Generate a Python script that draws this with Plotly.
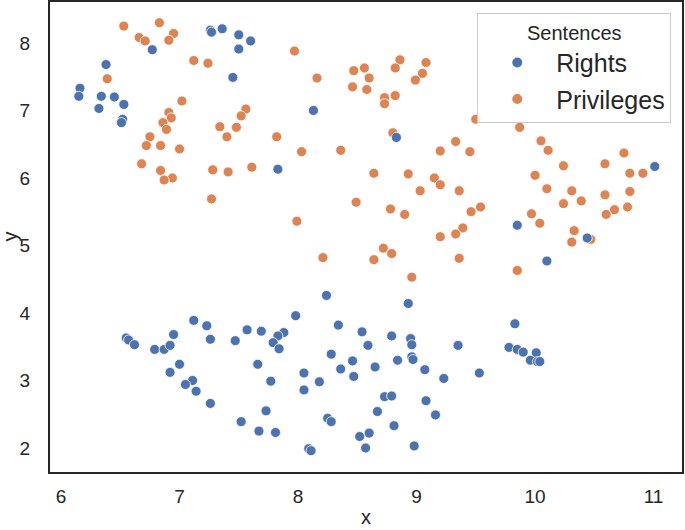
import plotly.graph_objects as go

rights_x = [7.26, 7.27, 7.36, 7.50, 7.60, 7.50, 6.77, 6.38, 7.45, 6.16, 6.15, 6.34, 6.45, 6.53, 6.32, 6.52, 6.51,
            8.13, 8.83, 7.83, 11.01, 9.85, 10.44, 10.10, 8.24, 8.93, 7.98,
            6.55, 6.57, 6.62, 6.79, 6.87, 6.92, 6.95, 7.12, 7.23, 7.26, 7.47, 7.57, 7.69, 7.00, 6.92, 7.11, 7.05,
            7.14, 7.26, 7.66, 7.77, 7.73, 7.52, 7.67,
            7.88, 7.83, 7.79, 7.84, 8.34, 8.54, 8.59, 8.79, 8.95, 8.96, 8.96, 8.97, 8.84, 9.07, 9.35, 9.23, 9.53,
            8.28, 8.46, 8.36, 8.47, 8.65, 8.05, 8.18, 8.05, 7.81, 8.73, 8.79, 9.08, 9.16, 8.67, 8.81, 8.25, 8.28,
            8.52, 8.60, 8.57, 8.98, 8.09, 8.11,
            9.83, 9.78, 9.85, 9.90, 10.01, 9.96, 10.02, 10.04]
rights_y = [8.19, 8.16, 8.21, 8.12, 8.03, 7.91, 7.90, 7.68, 7.49, 7.33, 7.21, 7.21, 7.20, 7.09, 7.03, 6.87, 6.82,
            7.00, 6.60, 6.13, 6.17, 5.30, 5.11, 4.77, 4.26, 4.14, 3.96,
            3.63, 3.60, 3.53, 3.46, 3.46, 3.52, 3.68, 3.89, 3.81, 3.61, 3.59, 3.75, 3.73, 3.24, 3.12, 3.00, 2.94,
            2.84, 2.66, 3.24, 2.99, 2.55, 2.39, 2.25,
            3.71, 3.66, 3.56, 3.47, 3.82, 3.72, 3.52, 3.66, 3.62, 3.53, 3.35, 3.31, 3.30, 3.16, 3.52, 3.03, 3.11,
            3.39, 3.29, 3.17, 3.06, 3.20, 3.11, 2.98, 2.86, 2.23, 2.76, 2.77, 2.70, 2.49, 2.54, 2.33, 2.44, 2.39,
            2.17, 2.22, 2.00, 2.03, 1.99, 1.96,
            3.84, 3.49, 3.46, 3.42, 3.41, 3.30, 3.28, 3.28]

priv_x = [6.53, 6.83, 6.66, 6.71, 6.95, 6.91, 7.12, 7.24, 6.39, 7.02, 6.91, 6.93, 6.86, 6.89, 6.75, 6.72, 6.84,
          7.00, 7.56, 7.52, 7.34, 7.48, 7.40, 6.68, 6.84, 6.94, 6.87, 7.28, 7.41, 7.61, 7.27,
          7.97, 8.16, 8.47, 8.56, 8.60, 8.46, 8.58, 8.86, 8.82, 9.08, 9.05, 8.99, 8.73, 8.82, 8.73, 8.80, 7.82,
          8.03, 8.36, 9.20, 9.33, 9.45, 9.50,
          9.87, 10.05, 10.11, 10.24, 10.59, 10.75,
          8.64, 8.93, 9.15, 9.20, 9.03, 9.36, 8.49, 8.78, 8.90, 9.46, 7.99, 9.39, 9.33, 9.20, 8.72, 8.79, 8.21,
          8.64, 9.36, 8.96,
          10.80, 10.91, 10.00, 10.10, 10.31, 10.39, 10.24, 10.59, 10.80, 10.78, 10.67, 10.60, 9.54, 9.97, 10.04,
          10.33, 10.31, 10.47, 9.85]
priv_y = [8.25, 8.30, 8.08, 8.03, 8.14, 8.04, 7.74, 7.70, 7.47, 7.14, 6.97, 6.89, 6.82, 6.72, 6.61, 6.48, 6.48,
          6.43, 7.02, 6.92, 6.76, 6.75, 6.61, 6.21, 6.11, 6.00, 5.97, 6.12, 6.09, 6.16, 5.69,
          7.88, 7.48, 7.59, 7.63, 7.48, 7.35, 7.31, 7.75, 7.63, 7.71, 7.55, 7.45, 7.19, 7.22, 7.10, 6.67, 6.61,
          6.39, 6.41, 6.40, 6.54, 6.39, 6.87,
          6.75, 6.55, 6.41, 6.18, 6.21, 6.37,
          6.07, 6.06, 6.00, 5.90, 5.81, 5.81, 5.64, 5.54, 5.46, 5.50, 5.36, 5.26, 5.17, 5.13, 4.96, 4.88, 4.82,
          4.79, 4.81, 4.53,
          6.07, 6.07, 6.04, 5.84, 5.81, 5.66, 5.62, 5.75, 5.80, 5.57, 5.53, 5.46, 5.57, 5.47, 5.33,
          5.22, 5.05, 5.09, 4.63]

x_ticks = [6, 7, 8, 9, 10, 11]
y_ticks = [2, 3, 4, 5, 6, 7, 8]
x_title = "x"
y_title = "y"

BLUE = "#4C72B0"
ORANGE = "#DD8452"
TXT = "#262626"
FONT = "Liberation Sans, Arial, sans-serif"

fig = go.Figure()
fig.add_trace(go.Scatter(x=priv_x, y=priv_y, mode="markers", name="Privileges", legendrank=2,
                         legendgroup="p",
                         marker=dict(color=ORANGE, size=10, line=dict(color="white", width=0.8))))
fig.add_trace(go.Scatter(x=rights_x, y=rights_y, mode="markers", name="Rights", legendrank=1,
                         legendgroup="r",
                         marker=dict(color=BLUE, size=10, line=dict(color="white", width=0.8))))

axis_common = dict(showgrid=False, zeroline=False, showline=True, mirror=True,
                   linecolor=TXT, linewidth=2, ticks="", automargin=False,
                   tickfont=dict(family=FONT, size=19, color=TXT))

fig.update_layout(
    width=685, height=530,
    margin=dict(l=50, r=3, t=2, b=58),
    paper_bgcolor="white", plot_bgcolor="white",
    font=dict(family=FONT, color=TXT),
    xaxis=dict(range=[5.907, 11.24], tickvals=x_ticks, ticklabelstandoff=6, **axis_common),
    yaxis=dict(range=[1.644, 8.607], tickvals=y_ticks, ticklabelstandoff=14, **axis_common),
    legend=dict(x=0.983, y=0.977, xanchor="right", yanchor="top",
                bgcolor="rgba(255,255,255,0.8)", bordercolor="#cccccc", borderwidth=1,
                title=dict(text="Sentences", side="top center", font=dict(family=FONT, size=20, color=TXT)),
                font=dict(family=FONT, size=25, color=TXT), tracegroupgap=1,
                itemsizing="constant", itemwidth=68, indentation=0),
    annotations=[
        dict(text=x_title, xref="paper", yref="paper", x=0.5, y=-0.1225, xanchor="center", yanchor="bottom",
             showarrow=False, font=dict(family=FONT, size=20, color=TXT)),
        dict(text=y_title, xref="paper", yref="paper", x=-0.064, y=0.5, xanchor="center", yanchor="middle",
             textangle=-90, showarrow=False, font=dict(family=FONT, size=20, color=TXT)),
    ],
)

fig.write_html("out.html", config={"displayModeBar": False},
               post_script="document.body.style.margin='0';document.body.style.overflow='hidden';")
